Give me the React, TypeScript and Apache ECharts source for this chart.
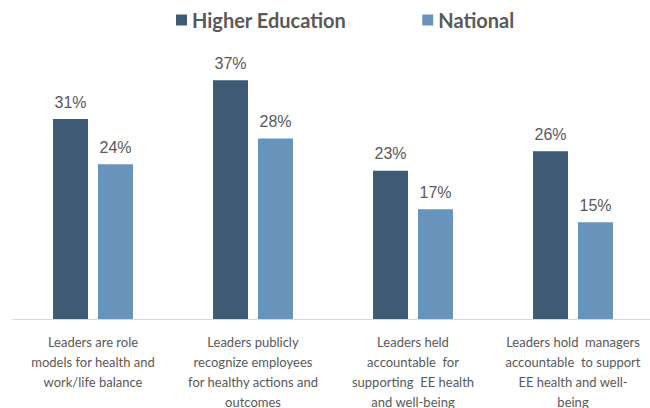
import React, { useEffect, useRef } from "react";
import * as echarts from "echarts";

const categories = [
  "Leaders are role\nmodels for health and\nwork/life balance",
  "Leaders publicly\nrecognize employees\nfor healthy actions and\noutcomes",
  "Leaders held\naccountable  for\nsupporting  EE health\nand well-being",
  "Leaders hold  managers\naccountable  to support\nEE health and well-\nbeing",
];
const higherEducation = [31, 37, 23, 26];
const national = [24, 28, 17, 15];
const seriesNames = ["Higher Education", "National"];

export default function App() {
  const ref = useRef<HTMLDivElement>(null);
  useEffect(() => {
    if (!ref.current) return;
    const chart = echarts.init(ref.current, null, { renderer: "svg" });
    const labelStyle = {
      show: true,
      position: "top" as const,
      distance: 9,
      formatter: "{c}%",
      color: "#595959",
      fontSize: 16,
      fontFamily: "Liberation Sans, Arial, sans-serif",
    };
    chart.setOption({
      animation: false,
      backgroundColor: "#ffffff",
      legend: {
        data: seriesNames,
        left: 171,
        top: 5,
        itemWidth: 11,
        itemHeight: 11,
        itemGap: 76,
        icon: "rect",
        textStyle: {
          color: "#595959",
          fontSize: 20,
          fontWeight: "bold",
          fontFamily: "Lato, Open Sans, sans-serif",
        },
      },
      grid: {
        left: 13,
        width: 640,
        top: 61,
        height: 258,
        containLabel: false,
        outerBoundsMode: "none",
      },
      xAxis: {
        type: "category",
        data: categories,
        axisLine: { show: true, lineStyle: { color: "#d9d9d9", width: 1 } },
        axisTick: { show: false },
        axisLabel: {
          interval: 0,
          margin: 13,
          color: "#595959",
          fontSize: 13,
          lineHeight: 20,
          fontFamily: "Lato, sans-serif",
          verticalAlign: "top",
        },
      },
      yAxis: {
        type: "value",
        min: 0,
        max: 40,
        show: false,
        splitLine: { show: false },
      },
      series: [
        {
          name: seriesNames[0],
          type: "bar",
          data: higherEducation,
          barWidth: 35,
          barGap: "28.6%",
          itemStyle: { color: "#3F5A74" },
          label: labelStyle,
        },
        {
          name: seriesNames[1],
          type: "bar",
          data: national,
          barWidth: 35,
          barGap: "28.6%",
          itemStyle: { color: "#6893BB" },
          label: labelStyle,
        },
      ],
    });
    return () => chart.dispose();
  }, []);
  return (
    <div
      ref={ref}
      style={{ position: "fixed", left: 0, top: 0, width: 650, height: 408 }}
    />
  );
}
